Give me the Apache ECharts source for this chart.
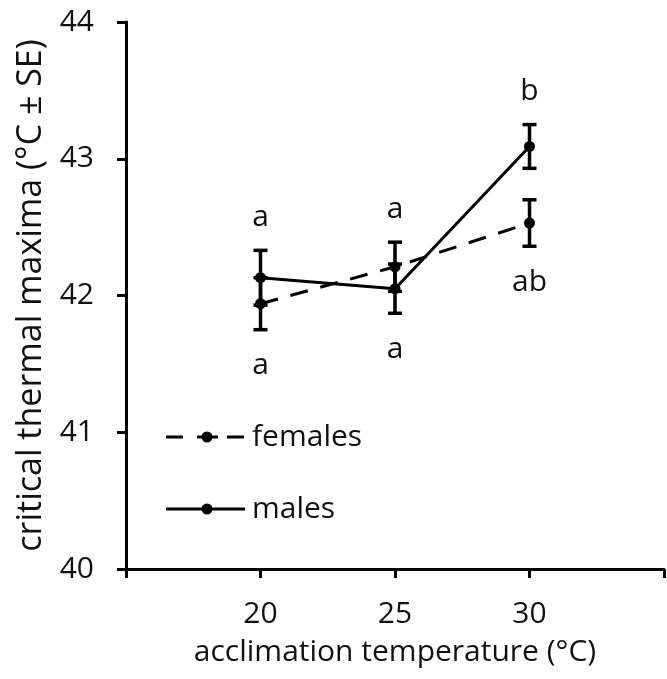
<!DOCTYPE html>
<html>
<head>
<meta charset="utf-8">
<script src="https://cdn.jsdelivr.net/npm/echarts@6/dist/echarts.min.js"></script>
<style>html,body{margin:0;padding:0;background:#fff}#c{width:667px;height:679px}</style>
</head>
<body>
<div id="c"></div>
<script>
const temps = [20, 25, 30];
const xTickLabels = ['20', '25', '30'];
const seriesNames = ['females', 'males'];
const femalesMean = [41.94, 42.21, 42.53];
const femalesSE = [0.19, 0.18, 0.17];
const malesMean = [42.13, 42.05, 43.09];
const malesSE = [0.20, 0.18, 0.16];
const femalesLetters = ['a', 'a', 'ab'];
const malesLetters = ['a', 'a', 'b'];

const FONT = 'Open Sans';
const FS = 30;
const INK = '#111';

const chart = echarts.init(document.getElementById('c'));

function errorBarRender(params, api) {
  const x = api.value(0), m = api.value(1), se = api.value(2);
  const top = api.coord([x, m + se]);
  const bot = api.coord([x, m - se]);
  const hw = 7;
  const st = { stroke: '#000', lineWidth: 3.5 };
  return {
    type: 'group',
    children: [
      { type: 'line', shape: { x1: top[0], y1: top[1], x2: bot[0], y2: bot[1] }, style: st },
      { type: 'line', shape: { x1: top[0] - hw, y1: top[1], x2: top[0] + hw, y2: top[1] }, style: st },
      { type: 'line', shape: { x1: bot[0] - hw, y1: bot[1], x2: bot[0] + hw, y2: bot[1] }, style: st }
    ]
  };
}

function letterRender(params, api) {
  const i = api.value(1);
  const x = temps[i];
  const fTop = femalesMean[i] + femalesSE[i], fBot = femalesMean[i] - femalesSE[i];
  const mTop = malesMean[i] + malesSE[i], mBot = malesMean[i] - malesSE[i];
  const maleUp = malesMean[i] > femalesMean[i];
  const upText = maleUp ? malesLetters[i] : femalesLetters[i];
  const dnText = maleUp ? femalesLetters[i] : malesLetters[i];
  const pUp = api.coord([x, Math.max(fTop, mTop)]);
  const pDn = api.coord([x, Math.min(fBot, mBot)]);
  const mk = (t, px, py) => ({
    type: 'text',
    style: { text: t, x: px, y: py, align: 'center', verticalAlign: 'middle',
             fontSize: FS, fontFamily: FONT, fill: INK }
  });
  return { type: 'group', children: [mk(upText, pUp[0], pUp[1] - 33), mk(dnText, pDn[0], pDn[1] + 36)] };
}

// manual legend
function legendItem(name, y, dashed) {
  const st = { stroke: '#000', lineWidth: 3 };
  const children = [];
  if (dashed) {
    children.push({ type: 'line', shape: { x1: 166, y1: y, x2: 183, y2: y }, style: st });
    children.push({ type: 'line', shape: { x1: 197, y1: y, x2: 218, y2: y }, style: st });
    children.push({ type: 'line', shape: { x1: 227, y1: y, x2: 244, y2: y }, style: st });
  } else {
    children.push({ type: 'line', shape: { x1: 166, y1: y, x2: 245, y2: y }, style: st });
  }
  children.push({ type: 'circle', shape: { cx: 207, cy: y, r: 5.5 }, style: { fill: '#000' } });
  children.push({ type: 'text', style: { text: name, x: 252, y: y, align: 'left', verticalAlign: 'middle',
                  fontSize: FS, fontFamily: FONT, fill: INK } });
  return { type: 'group', children };
}

const option = {
  animation: false,
  backgroundColor: '#fff',
  textStyle: { fontFamily: FONT },
  grid: { left: 126, right: 1, top: 22, bottom: 110, containLabel: false },
  graphic: [legendItem(seriesNames[0], 437, true), legendItem(seriesNames[1], 509, false)],
  xAxis: {
    type: 'value',
    min: 15, max: 35, interval: 5,
    name: 'acclimation temperature (°C)',
    nameLocation: 'middle',
    nameGap: 68,
    nameTextStyle: { fontSize: FS, fontFamily: FONT, color: INK },
    axisLine: { onZero: false, lineStyle: { color: '#000', width: 3 } },
    axisTick: { show: true, inside: false, length: 9, lineStyle: { color: '#000', width: 3 } },
    axisLabel: {
      margin: 30, fontSize: FS, fontFamily: FONT, color: INK,
      formatter: v => xTickLabels.includes(String(v)) ? String(v) : ''
    },
    splitLine: { show: false }
  },
  yAxis: {
    type: 'value',
    min: 40, max: 44, interval: 1,
    name: 'critical thermal maxima (°C ± SE)',
    nameLocation: 'middle',
    nameGap: 70,
    nameTextStyle: { fontSize: 34, fontFamily: FONT, color: INK },
    axisLine: { show: true, lineStyle: { color: '#000', width: 3 } },
    axisTick: { show: true, inside: false, length: 9, lineStyle: { color: '#000', width: 3 } },
    axisLabel: { margin: 32, fontSize: FS, fontFamily: FONT, color: INK },
    splitLine: { show: false }
  },
  series: [
    {
      name: seriesNames[0], type: 'line',
      data: temps.map((t, i) => [t, femalesMean[i]]),
      symbol: 'circle', symbolSize: 11,
      itemStyle: { color: '#000' },
      lineStyle: { color: '#000', width: 3, type: [18, 13] },
      z: 3
    },
    {
      name: seriesNames[1], type: 'line',
      data: temps.map((t, i) => [t, malesMean[i]]),
      symbol: 'circle', symbolSize: 11,
      itemStyle: { color: '#000' },
      lineStyle: { color: '#000', width: 3, type: 'solid' },
      z: 3
    },
    {
      name: 'femalesErr', type: 'custom', renderItem: errorBarRender,
      data: temps.map((t, i) => [t, femalesMean[i], femalesSE[i]]), z: 2
    },
    {
      name: 'malesErr', type: 'custom', renderItem: errorBarRender,
      data: temps.map((t, i) => [t, malesMean[i], malesSE[i]]), z: 2
    },
    {
      name: 'letters', type: 'custom', renderItem: letterRender,
      data: temps.map((t, i) => [t, i]), z: 4
    }
  ]
};
chart.setOption(option);
</script>
</body>
</html>
